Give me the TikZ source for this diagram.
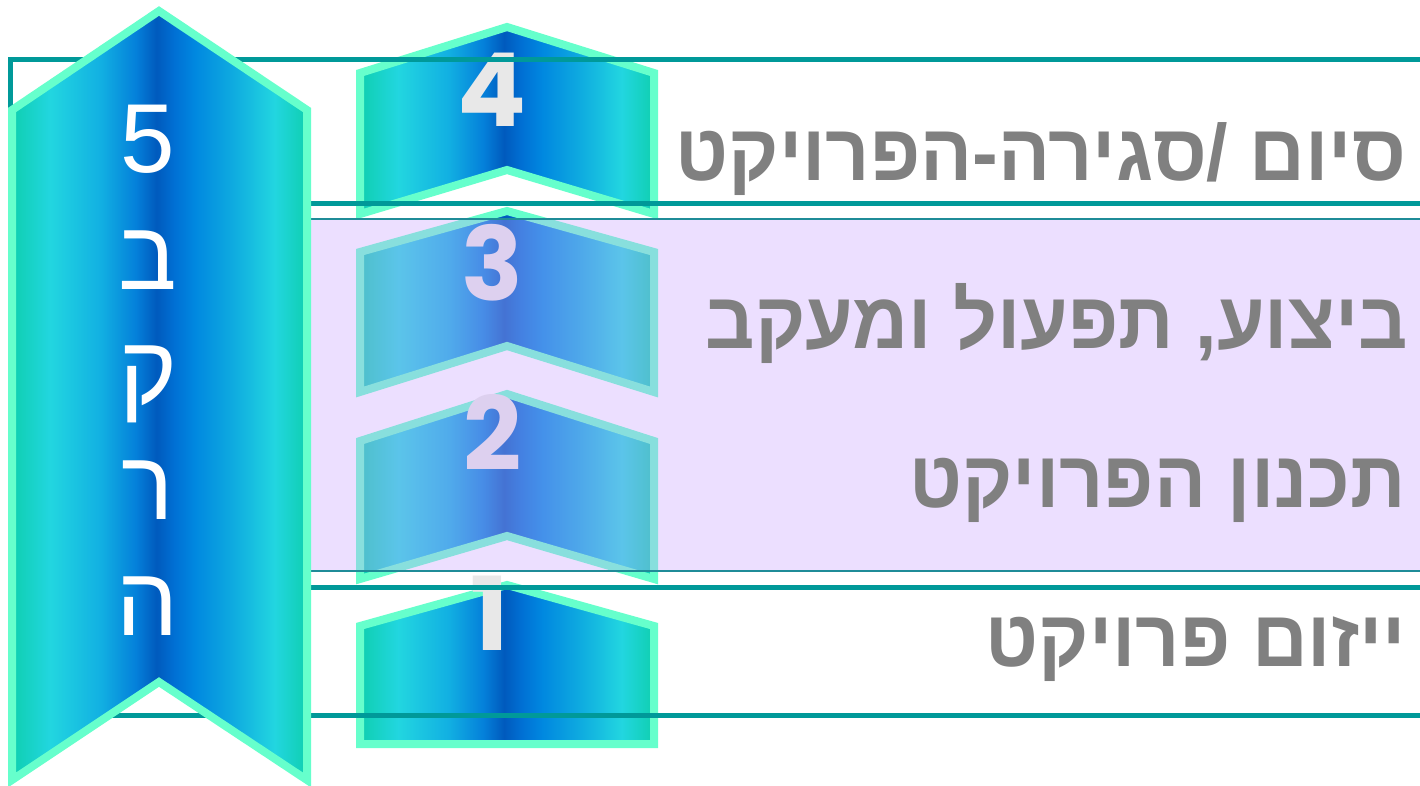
\documentclass[tikz,border=0pt]{standalone}
\usepackage{fontspec}
\TeXXeTstate=1
\newfontfamily\hebfont[Script=Hebrew]{Liberation Sans}
\newfontfamily\numfont{Poppins}
\definecolor{gA}{HTML}{0FCFB0}
\definecolor{gB}{HTML}{22D6E0}
\definecolor{gC}{HTML}{12B0E2}
\definecolor{gD}{HTML}{0480DA}
\definecolor{gE}{HTML}{005ABD}
\definecolor{gF}{HTML}{0070D4}
\definecolor{gG}{HTML}{0088E0}
\definecolor{gH}{HTML}{10AEE0}
\definecolor{aqua}{HTML}{66FFCC}
\definecolor{tealline}{HTML}{009999}
\definecolor{thinline}{HTML}{1F8C98}
\definecolor{lav}{HTML}{CAA4FF}
\definecolor{numgray}{HTML}{E8E8E8}
\definecolor{textgray}{HTML}{808080}
\pgfdeclarehorizontalshading{chevgrad}{100bp}{color(0bp)=(gA); color(25bp)=(gA); color(31.5bp)=(gB); color(40bp)=(gC); color(46bp)=(gD); color(49.5bp)=(gE); color(52.5bp)=(gF); color(56bp)=(gG); color(63bp)=(gH); color(69.5bp)=(gB); color(75bp)=(gA); color(100bp)=(gA)}
\tikzset{
  chev/.style={shade, shading=chevgrad, draw=aqua, line width=8pt, line join=miter},
  thickframe/.style={draw=tealline, line width=5pt},
  thinframe/.style={draw=thinline, line width=1.5pt},
  num/.style={inner sep=0pt, anchor=base, text=numgray, font=\numfont\bfseries\fontsize{102}{110}\selectfont},
  coltext/.style={inner sep=0pt, anchor=base, text=white, font=\hebfont\fontsize{98}{110}\selectfont},
  rowtext/.style={inner sep=0pt, anchor=base east, text=textgray, font=\hebfont\bfseries\fontsize{80}{96}\selectfont}
}
\newcommand{\rowscale}[1]{\scalebox{0.965}[1]{#1}}
\begin{document}
\begin{tikzpicture}[x=1pt,y=-1pt]
\useasboundingbox (0,0) rectangle (1420,786);
\clip (0,0) rectangle (1420,786);
\fill[white] (0,0) rectangle (1420,786);
% arrows 3 and 2 (under the band)
\path[chev] (360,252) -- (507,211) -- (654,252) -- (654,392) -- (507,346) -- (360,392) -- cycle;
\path[chev] (360,441) -- (507,394) -- (654,441) -- (654,579) -- (507,536) -- (360,579) -- cycle;
\node[num] (n3) at (492,300) {3};
\node[num] (n2) at (493,470) {2};
% arrows 4 and 1
\path[chev] (360,73) -- (507,27) -- (654,73) -- (654,214) -- (507,170) -- (360,214) -- cycle;
\path[chev] (360,626) -- (507,585) -- (654,626) -- (654,744) -- (360,744) -- cycle;
\node[num] (n4) at (492,127) {4};
\node[num] (n1) at (490,650) {1};
% frames
\draw[thickframe] (10,60) rectangle (1440,203.5);
\path[fill=lav, fill opacity=0.34] (10,219) rectangle (1440,571);
\draw[thinframe] (10,219) rectangle (1440,571);
\draw[thickframe] (10,587) rectangle (1440,715);
% big arrow 5
\path[chev] (12,110) -- (159,11) -- (307,110) -- (307,780) -- (159,682) -- (12,780) -- cycle;
\node[coltext] (c5) at (148,173) {5};
\node[coltext] (c1) at (148,289) {\beginR ב\endR};
\node[coltext] (c2) at (148,404) {\beginR ק\endR};
\node[coltext] (c3) at (148,519) {\beginR ר\endR};
\node[coltext] (c4) at (148,635) {\beginR ה\endR};
% row texts
\node[rowtext] (t4) at (1406,181) {\rowscale{\beginR סיום /סגירה-הפרויקט\endR}};
\node[rowtext] (t3) at (1408,348) {\rowscale{\beginR ביצוע, תפעול ומעקב\endR}};
\node[rowtext] (t2) at (1406,507) {\rowscale{\beginR תכנון הפרויקט\endR}};
\node[rowtext] (t1) at (1406,666) {\rowscale{\beginR ייזום פרויקט\endR}};
\end{tikzpicture}
\end{document}
